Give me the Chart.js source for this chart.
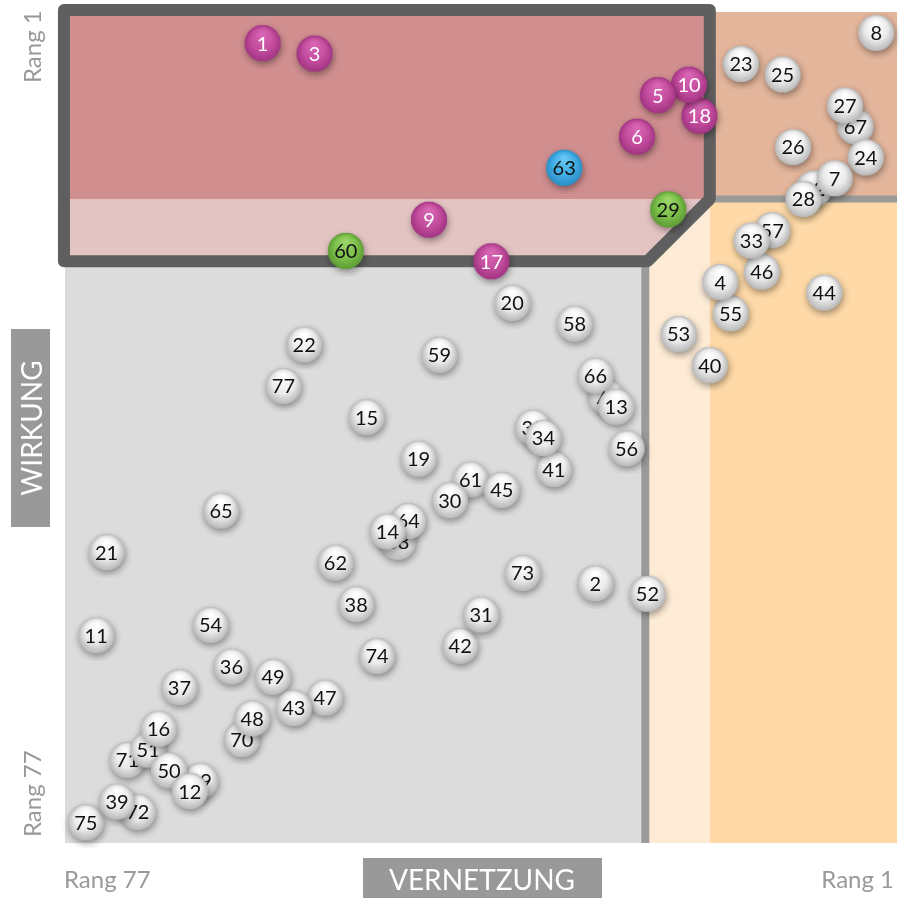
<!DOCTYPE html>
<html lang="de">
<head>
    <meta charset="UTF-8">
    <title>Vernetzung / Wirkung</title>
    <style>
        body{
            margin: 0;
            background: #ffffff;
        }
        #matrix{
            display: block;
        }
    </style>
</head>
<body>
    <canvas id="matrix" width="899" height="898"></canvas>

    <script src="https://cdn.jsdelivr.net/npm/chart.js"></script>

    <script>
        // Faktoren 1..77, Rang in Vernetzung (x) und Wirkung (y)
        const nummern = [
             1,  2,  3,  4,  5,  6,  7,  8,  9, 10,
            11, 12, 13, 14, 15, 16, 17, 18, 19, 20,
            21, 22, 23, 24, 25, 26, 27, 28, 29, 30,
            31, 32, 33, 34, 35, 36, 37, 38, 39, 40,
            41, 42, 43, 44, 45, 46, 47, 48, 49, 50,
            51, 52, 53, 54, 55, 56, 57, 58, 59, 60,
            61, 62, 63, 64, 65, 66, 67, 68, 69, 70,
            71, 72, 73, 74, 75, 76, 77
        ]
        const vernetzung = [
            60, 28, 55, 16, 22, 24,  5,  1, 44, 19,
            76, 67, 26, 48, 50, 70, 38, 18, 45, 36,
            75, 56, 14,  2, 10,  9,  4,  8, 21, 42,
            39,  7, 13, 33, 34, 63, 68, 51, 74, 17,
            32, 41, 57,  6, 37, 12, 54, 61, 59, 69,
            71, 23, 20, 65, 15, 25, 11, 30, 43, 52,
            40, 53, 31, 46, 64, 28,  3, 47, 66, 62,
            73, 72, 35, 49, 77, 27, 58
        ]
        const wirkung = [
             2, 54,  3, 25,  7, 11, 15,  1, 19,  6,
            59, 74, 37, 49, 38, 68, 23,  9, 42, 27,
            51, 31,  4, 13,  5, 12,  8, 17, 18, 46,
            57, 16, 21, 40, 39, 62, 64, 56, 75, 33,
            43, 60, 66, 26, 45, 24, 65, 67, 63, 72,
            70, 55, 30, 58, 28, 41, 20, 29, 32, 22,
            44, 52, 14, 48, 47, 34, 10, 50, 73, 69,
            71, 76, 53, 61, 77, 36, 35
        ]
        const lila = [1, 3, 5, 6, 9, 10, 17, 18]
        const blau = [63]
        const gruen = [29, 60]

        // Kugel als kleines Bild, wird als pointStyle benutzt
        function kugel(hell, mitte, rand){
            var c = document.createElement("canvas")
            c.width = 52
            c.height = 52
            var g = c.getContext("2d")
            var r = 18

            g.save()
            g.shadowColor = "rgba(0,0,0,0.4)"
            g.shadowBlur = 7
            g.shadowOffsetX = 1
            g.shadowOffsetY = 3
            g.fillStyle = rand
            g.beginPath()
            g.arc(26, 26, r, 0, Math.PI * 2)
            g.fill()
            g.restore()

            var grad = g.createRadialGradient(26, 26 - r * 0.55, r * 0.1, 26, 26, r)
            grad.addColorStop(0, hell)
            grad.addColorStop(0.6, mitte)
            grad.addColorStop(1, rand)
            g.fillStyle = grad
            g.beginPath()
            g.arc(26, 26, r, 0, Math.PI * 2)
            g.fill()
            return c
        }

        const kugeln = {
            grau:  { bild: kugel("#ffffff", "#ebebeb", "#b9b9b9"), text: "#111111" },
            lila:  { bild: kugel("#d866b4", "#c44c9e", "#a23583"), text: "#ffffff" },
            blau:  { bild: kugel("#66c8f4", "#41ade5", "#2b8fc6"), text: "#111111" },
            gruen: { bild: kugel("#9ad468", "#7cc04a", "#5e9c35"), text: "#111111" }
        }

        function gruppe(nr){
            if (lila.includes(nr)) return "lila"
            if (blau.includes(nr)) return "blau"
            if (gruen.includes(nr)) return "gruen"
            return "grau"
        }

        // ein Datensatz pro Faktor, damit Kugel und Zahl zusammen gezeichnet werden
        var datasets = nummern.map((nr, i) => {
            var k = kugeln[gruppe(nr)]
            return {
                label: String(nr),
                data: [{ x: vernetzung[i], y: wirkung[i] }],
                pointStyle: k.bild,
                pointRadius: 18,
                pointHoverRadius: 18,
                textFarbe: k.text,
                clip: false
            }
        })

        // Flächen der Matrix (in Rang-Einheiten)
        const KERN = 17
        const GRENZE = 23
        const LINIE_X = 23.2
        const OBEN = -1.2
        const LINKS = 79.1

        const flaechen = {
            id: "flaechen",
            beforeDatasetsDraw(chart){
                var ctx = chart.ctx
                var sx = chart.scales.x
                var sy = chart.scales.y
                var px = v => sx.getPixelForValue(v)
                var py = v => sy.getPixelForValue(v)

                ctx.save()
                ctx.fillStyle = "#e3b59b"
                ctx.fillRect(px(KERN), py(-1), px(-1) - px(KERN), py(KERN) - py(-1))

                ctx.fillStyle = "#fed9a7"
                ctx.fillRect(px(KERN), py(KERN), px(-1) - px(KERN), py(79) - py(KERN))

                ctx.fillStyle = "#fdebd6"
                ctx.fillRect(px(LINIE_X), py(KERN), px(KERN) - px(LINIE_X), py(79) - py(KERN))

                ctx.fillStyle = "#dcdcdc"
                ctx.fillRect(px(79), py(GRENZE), px(LINIE_X) - px(79), py(79) - py(GRENZE))

                ctx.strokeStyle = "#9a9a9a"
                ctx.lineWidth = 8
                ctx.beginPath()
                ctx.moveTo(px(LINIE_X), py(GRENZE))
                ctx.lineTo(px(LINIE_X), py(79))
                ctx.stroke()

                ctx.lineWidth = 7
                ctx.beginPath()
                ctx.moveTo(px(KERN), py(KERN))
                ctx.lineTo(px(-1), py(KERN))
                ctx.stroke()

                // Kernbereich oben links
                var pfad = new Path2D()
                pfad.moveTo(px(LINKS), py(OBEN))
                pfad.lineTo(px(KERN), py(OBEN))
                pfad.lineTo(px(KERN), py(KERN))
                pfad.lineTo(px(GRENZE), py(GRENZE))
                pfad.lineTo(px(LINKS), py(GRENZE))
                pfad.closePath()

                ctx.fillStyle = "#e4c3c3"
                ctx.fill(pfad)
                ctx.save()
                ctx.clip(pfad)
                ctx.fillStyle = "#d08e8f"
                ctx.fillRect(px(LINKS), py(OBEN), px(KERN) - px(LINKS), py(KERN) - py(OBEN))
                ctx.restore()

                ctx.strokeStyle = "#5f5f5f"
                ctx.lineWidth = 12
                ctx.lineJoin = "round"
                ctx.stroke(pfad)
                ctx.restore()
            }
        }

        // Zahl direkt nach der jeweiligen Kugel
        const nummernText = {
            id: "nummernText",
            afterDatasetDraw(chart, args){
                var el = args.meta.data[0]
                var ds = chart.data.datasets[args.index]
                var ctx = chart.ctx
                ctx.save()
                ctx.font = "20px Lato"
                ctx.fillStyle = ds.textFarbe
                ctx.textAlign = "center"
                ctx.textBaseline = "middle"
                ctx.fillText(ds.label, el.x, el.y + 1)
                ctx.restore()
            }
        }

        const achsen = {
            id: "achsen",
            afterDraw(chart){
                var ctx = chart.ctx
                ctx.save()
                ctx.fillStyle = "#999999"
                ctx.font = "24px Lato"
                ctx.textBaseline = "alphabetic"

                ctx.textAlign = "left"
                ctx.fillText("Rang 77", 64, 888)
                ctx.textAlign = "right"
                ctx.fillText("Rang 1", 894, 888)

                ctx.textAlign = "left"
                ctx.save()
                ctx.translate(41, 83)
                ctx.rotate(-Math.PI / 2)
                ctx.fillText("Rang 1", 0, 0)
                ctx.restore()

                ctx.save()
                ctx.translate(41, 837)
                ctx.rotate(-Math.PI / 2)
                ctx.fillText("Rang 77", 0, 0)
                ctx.restore()

                // Achsentitel in grauen Kästen
                ctx.fillStyle = "#999999"
                ctx.fillRect(11, 329, 39, 198)
                ctx.fillRect(363, 858, 239, 40)

                ctx.fillStyle = "#ffffff"
                ctx.font = "28px Lato"
                ctx.textAlign = "center"
                ctx.fillText("VERNETZUNG", 482, 890)

                ctx.save()
                ctx.translate(42, 428)
                ctx.rotate(-Math.PI / 2)
                ctx.fillText("WIRKUNG", 0, 0)
                ctx.restore()

                ctx.restore()
            }
        }

        new Chart(document.getElementById("matrix"), {
            type: "scatter",
            data: { datasets: datasets },
            options: {
                responsive: false,
                animation: false,
                events: [],
                layout: {
                    autoPadding: false,
                    padding: { left: 65, right: 2, top: 12, bottom: 55 }
                },
                plugins: {
                    legend: { display: false },
                    tooltip: { enabled: false }
                },
                scales: {
                    x: { type: "linear", display: false, reverse: true, min: -1, max: 79 },
                    y: { type: "linear", display: false, reverse: true, min: -1, max: 79 }
                }
            },
            plugins: [flaechen, nummernText, achsen]
        });
    </script>
</body>
</html>
